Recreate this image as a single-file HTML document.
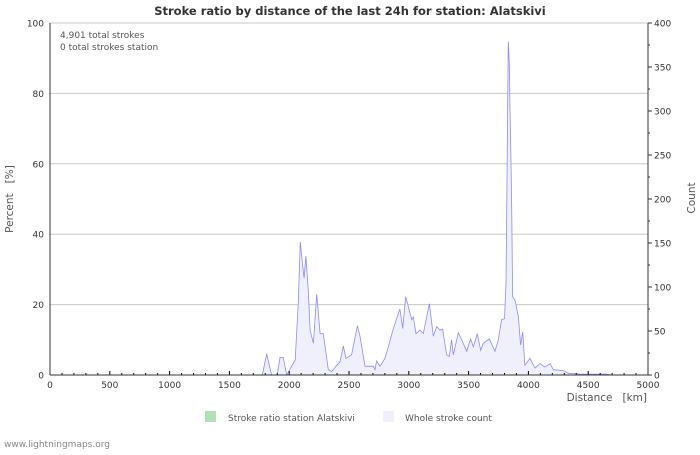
<!DOCTYPE html>
<html><head><meta charset="utf-8"><style>
body{margin:0;background:#fff;}
svg text{font-family:"DejaVu Sans","Liberation Sans",sans-serif;}
</style></head><body>
<svg id="chart" width="700" height="450" xmlns="http://www.w3.org/2000/svg">
<rect x="0" y="0" width="700" height="450" fill="#fff"/>
<text x="350" y="15" text-anchor="middle" font-size="11.5" font-weight="bold" fill="#333">Stroke ratio by distance of the last 24h for station: Alatskivi</text>
<g id="grid"></g>
<g id="series"></g>
<g id="axes"></g>
<text x="60" y="38" font-size="9" fill="#555">4,901 total strokes</text>
<text x="60" y="50" font-size="9" fill="#555">0 total strokes station</text>
<text transform="translate(13,199) rotate(-90)" text-anchor="middle" font-size="10.5" fill="#555" xml:space="preserve">Percent   [%]</text>
<text transform="translate(695,198) rotate(-90)" text-anchor="middle" font-size="10.5" fill="#555">Count</text>
<text x="647" y="401" text-anchor="end" font-size="10.5" fill="#555" xml:space="preserve">Distance   [km]</text>
<g>
<rect x="205" y="411" width="11" height="11" fill="#b3e0b3"/>
<text x="228" y="421" font-size="9" fill="#555">Stroke ratio station Alatskivi</text>
</g>
<g>
<rect x="383" y="411" width="11" height="11" fill="#f0f0fc"/>
<text x="405" y="421" font-size="9" fill="#555">Whole stroke count</text>
</g>
<text x="4" y="447" font-size="9" fill="#888">www.lightningmaps.org</text>
</svg>
<script>
const distances=[0,1750,1775,1812,1853,1900,1923,1950,1979,2000,2050,2076,2093,2110,2125,2140,2160,2175,2202,2230,2258,2285,2327,2355,2397,2425,2452,2475,2522,2570,2592,2634,2703,2717,2731,2759,2801,2829,2871,2926,2949,2974,2996,3024,3038,3060,3094,3121,3172,3205,3233,3261,3283,3317,3339,3358,3372,3414,3442,3484,3517,3539,3573,3601,3623,3673,3721,3748,3776,3800,3813,3818,3827,3832,3840,3846,3854,3860,3868,3888,3916,3935,3952,3971,4013,4055,4097,4139,4181,4208,4292,4334,4430,4570,4650,4700,5000];
const counts=[0,0,0,24,0,0,20,20,0,5,17,83,151,127,110,135,96,51,36,92,47,47,6,4,11,15,33,19,23,56,44,10,10,6,16,10,19,32,53,75,53,89,78,63,66,47,51,47,81,44,55,51,52,23,21,40,23,48,40,27,41,32,47,28,36,41,27,40,63,64,104,172,309,379,354,301,248,191,89,85,66,34,49,11,19,8,13,9,13,6,5,2,1,1,1,0,0];
const ratioValues=[];
const leftTicks=[0,20,40,60,80,100];
const rightTicks=[0,50,100,150,200,250,300,350,400];
const xTicks=[0,500,1000,1500,2000,2500,3000,3500,4000,4500,5000];
const X0=50,X1=648,Y0=375,Y1=23;
const xs=d=>X0+(d/5000)*(X1-X0);
const yL=p=>Y0-(p/100)*(Y0-Y1);
const yR=c=>Y0-(c/400)*(Y0-Y1);
const NS='http://www.w3.org/2000/svg';
function mk(t,a,parent){const e=document.createElementNS(NS,t);for(const k in a)e.setAttribute(k,a[k]);document.getElementById(parent).appendChild(e);return e;}
leftTicks.forEach(v=>{
 if(v>0){const g=mk('line',{x1:X0,x2:X1,y1:yL(v),y2:yL(v),stroke:'#c8c8c8','stroke-width':1},'grid');
 
 }
 const t=mk('text',{x:X0-6,y:yL(v)+3.5,'text-anchor':'end','font-size':9,fill:'#333'},'axes');t.textContent=v;
 
 
});
rightTicks.forEach(v=>{
 const t=mk('text',{x:X1+6,y:yR(v)+3.5,'font-size':9,fill:'#333'},'axes');t.textContent=v;
 
 
 mk('line',{x1:X1,x2:X1+4,y1:yR(v),y2:yR(v),stroke:'#333'},'axes');
 if(v<400)mk('line',{x1:X1,x2:X1+2,y1:yR(v+25),y2:yR(v+25),stroke:'#333'},'axes');
});
for(let d=0;d<=5000;d+=100){
 const big=d%500===0;
 mk('line',{x1:xs(d),x2:xs(d),y1:Y0,y2:Y0-(big?4:2),stroke:'#000'},'axes');
}
xTicks.forEach(v=>{
 const t=mk('text',{x:xs(v),y:Y0+13,'text-anchor':'middle','font-size':9,fill:'#333'},'axes');t.textContent=v;
 
 
});
let pts=distances.map((d,i)=>xs(d).toFixed(1)+','+yR(counts[i]).toFixed(1)).join(' ');
const area=mk('polygon',{points:xs(0)+','+Y0+' '+pts+' '+xs(5000)+','+Y0,fill:'#f0f0fc',stroke:'none'},'series');


const line=mk('polyline',{points:pts,fill:'none',stroke:'#8a8aff','stroke-width':0.8},'series');


const ax=mk('line',{x1:X0,x2:X1,y1:Y0,y2:Y0,stroke:'#333'},'axes');


mk('line',{x1:X0,x2:X0,y1:Y1,y2:Y0,stroke:'#333'},'axes');
mk('line',{x1:X1,x2:X1,y1:Y1,y2:Y0,stroke:'#333'},'axes');
</script>
</body></html>
